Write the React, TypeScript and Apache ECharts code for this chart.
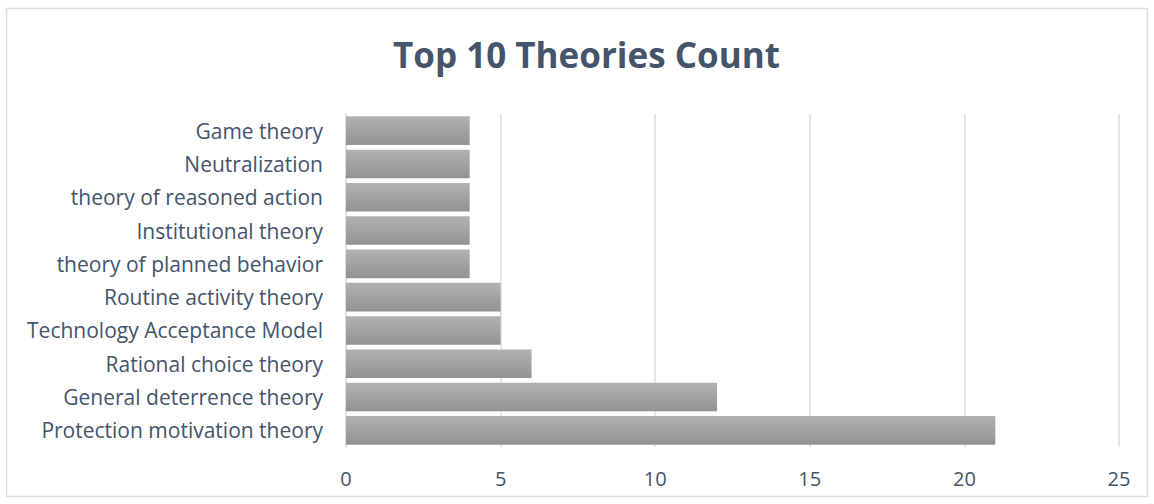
import React, { useEffect, useRef } from "react";
import * as echarts from "echarts";

const categories = [
  "Protection motivation theory",
  "General deterrence theory",
  "Rational choice theory",
  "Technology Acceptance Model",
  "Routine activity theory",
  "theory of planned behavior",
  "Institutional theory",
  "theory of reasoned action",
  "Neutralization",
  "Game theory",
];
const counts = [21, 12, 6, 5, 5, 4, 4, 4, 4, 4];
const titleText = "Top 10 Theories Count";

export default function App() {
  const ref = useRef<HTMLDivElement>(null);
  useEffect(() => {
    document.body.style.margin = "0";
    const chart = echarts.init(ref.current!, null, { renderer: "svg" });
    chart.setOption({
      animation: false,
      backgroundColor: "#ffffff",
      title: {
        text: titleText,
        left: 388,
        top: 32,
        textStyle: {
          fontFamily: "Open Sans",
          fontSize: 35,
          fontWeight: "bold",
          color: "#44546A",
        },
      },
      graphic: [
        {
          type: "rect",
          shape: { x: 6.5, y: 8.5, width: 1141, height: 488 },
          style: { fill: "none", stroke: "#D9DDE3", lineWidth: 1.5 },
        },
      ],
      grid: { left: 346, right: 35, top: 114, bottom: 57 },
      xAxis: {
        type: "value",
        min: 0,
        max: 25,
        interval: 5,
        axisLine: { show: false },
        axisTick: { show: false },
        splitLine: { lineStyle: { color: "#D9DEE6", width: 1.5 } },
        axisLabel: {
          fontFamily: "Open Sans",
          fontSize: 20,
          color: "#44546A",
          margin: 21,
        },
      },
      yAxis: {
        type: "category",
        data: categories,
        axisLine: { show: true, lineStyle: { color: "#D9DEE6", width: 1.5 } },
        axisTick: { show: false },
        axisLabel: {
          fontFamily: "Open Sans",
          fontSize: 21,
          color: "#44546A",
          margin: 23,
        },
      },
      series: [
        {
          type: "bar",
          data: counts,
          barCategoryGap: "14%",
          itemStyle: {
            color: new echarts.graphic.LinearGradient(0, 0, 0, 1, [
              { offset: 0, color: "#B2B2B2" },
              { offset: 1, color: "#929292" },
            ]),
          },
        },
      ],
    });
    return () => chart.dispose();
  }, []);
  return <div ref={ref} style={{ width: 1154, height: 504 }} />;
}
